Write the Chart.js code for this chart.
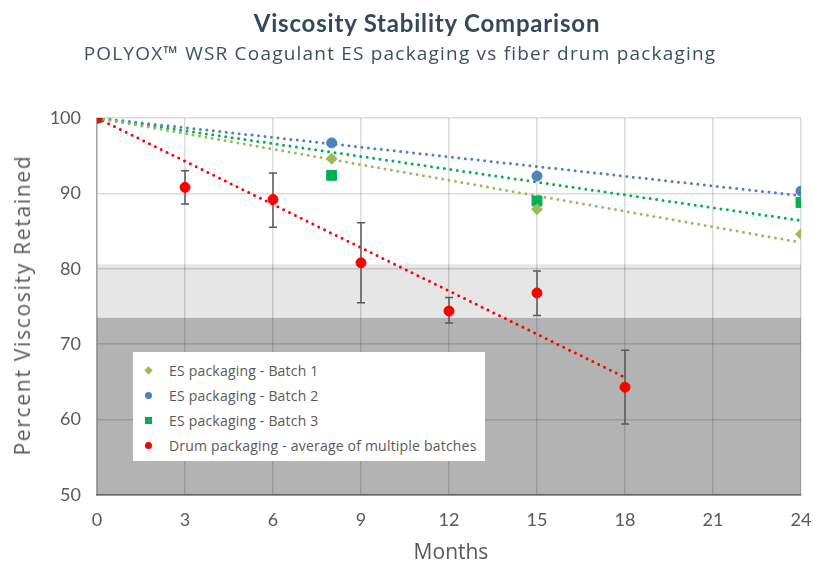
<!DOCTYPE html>
<html>
<head>
<meta charset="utf-8">
<script src="https://cdn.jsdelivr.net/npm/chart.js@4.4.0/dist/chart.umd.min.js"></script>
<style>
  body { margin: 0; background: #fff; }
  #wrap { position: relative; width: 813px; height: 569px; overflow: hidden; }
  .txt { position: absolute; white-space: nowrap; transform: translate(-50%, -50%); }
  #title { left: 427px; top: 22px; font: bold 24px Lato, sans-serif; letter-spacing: 0.8px; color: #34475d; }
  #subtitle { left: 400px; top: 53px; font: 19px 'Open Sans', sans-serif; letter-spacing: 1.2px; color: #3d4f63; }
  #ytitle { left: 22px; top: 305px; font: 21px 'Open Sans', sans-serif; letter-spacing: 1.7px; color: #595959;
            transform: translate(-50%, -50%) rotate(-90deg); }
  #xtitle { left: 451px; top: 551px; font: 21px 'Open Sans', sans-serif; color: #595959; }
  #legend {
    position: absolute; left: 133px; top: 352px; width: 352px; height: 109px;
    background: #fff; font: 14px 'Open Sans', sans-serif; letter-spacing: 0.2px; color: #595959;
    box-sizing: border-box; padding-top: 6px;
  }
  .item { height: 25px; line-height: 25px; position: relative; padding-left: 36px; white-space: nowrap; }
  .mk { position: absolute; left: 12px; top: 9px; width: 7px; height: 7px; }
</style>
</head>
<body>
<div id="wrap">
  <canvas id="chart" width="813" height="569"></canvas>
  <div id="title" class="txt">Viscosity Stability Comparison</div>
  <div id="subtitle" class="txt">POLYOX&trade; WSR Coagulant ES packaging vs fiber drum packaging</div>
  <div id="ytitle" class="txt">Percent Viscosity Retained</div>
  <div id="xtitle" class="txt">Months</div>
  <div id="legend"></div>
</div>
<script>
// Months where samples were taken
const batchMonths = [0, 8, 15, 24];
const drumMonths = [0, 3, 6, 9, 12, 15, 18];

// Percent viscosity retained
const batch1 = [100, 94.6, 87.9, 84.6];
const batch2 = [100, 96.7, 92.3, 90.3];
const batch3 = [100, 92.4, 89.0, 88.8];
const drum = [100, 90.8, 89.2, 80.8, 74.4, 76.8, 64.3];

// error bar ends for drum average
const drumHigh = [100, 93.0, 92.7, 86.1, 76.2, 79.7, 69.2];
const drumLow = [100, 88.6, 85.5, 75.5, 72.8, 73.8, 59.4];

// trend line ends [start, end]
const trendMonths = [0, 24];
const trend1 = [100, 83.5];
const trend2 = [100, 89.7];
const trend3 = [100, 86.4];
const drumTrendMonths = [0, 18];
const drumTrend = [100, 65.6];

// shaded bands [low, high]
const bandLight = [73.5, 80.6];
const bandDark = [50, 73.5];

const xTicks = [0, 3, 6, 9, 12, 15, 18, 21, 24];

const labels = [
  "ES packaging - Batch 1",
  "ES packaging - Batch 2",
  "ES packaging - Batch 3",
  "Drum packaging - average of multiple batches"
];

const COL1 = "#9bbb59", COL2 = "#4f81bd", COL3 = "#00b050", COLR = "#ff0000";
const FONT = "Lato, 'Open Sans', sans-serif";

function pts(xs, ys) { return xs.map((x, i) => ({ x: x, y: ys[i] })); }

function trendSet(xs, ys, color) {
  return {
    data: pts(xs, ys), showLine: true, pointRadius: 0, borderColor: color, order: 5,
    borderWidth: 3, borderDash: [0, 6.5], borderCapStyle: "round", fill: false
  };
}

// shaded bands under the grid
const bandPlugin = {
  id: "bands",
  beforeDraw(chart) {
    const { ctx, chartArea: a, scales: { y } } = chart;
    ctx.save();
    [[bandLight, "#e6e6e6"], [bandDark, "#b3b3b3"]].forEach(([b, c]) => {
      const top = y.getPixelForValue(b[1]);
      const bot = y.getPixelForValue(b[0]);
      ctx.fillStyle = c;
      ctx.fillRect(a.left, top, a.right - a.left, bot - top);
    });
    ctx.restore();
  }
};

// error bars for the drum series, drawn just before its points
const errorPlugin = {
  id: "errbars",
  beforeDatasetDraw(chart, args) {
    if (args.index !== 3) return;
    const { ctx, scales: { x, y } } = chart;
    ctx.save();
    ctx.strokeStyle = "#595959";
    ctx.lineWidth = 1.5;
    drumMonths.forEach((m, i) => {
      if (drumHigh[i] === drumLow[i]) return;
      const px = x.getPixelForValue(m);
      const t = y.getPixelForValue(drumHigh[i]);
      const b = y.getPixelForValue(drumLow[i]);
      ctx.beginPath();
      ctx.moveTo(px, t); ctx.lineTo(px, b);
      ctx.moveTo(px - 4, t); ctx.lineTo(px + 4, t);
      ctx.moveTo(px - 4, b); ctx.lineTo(px + 4, b);
      ctx.stroke();
    });
    ctx.restore();
  }
};

new Chart(document.getElementById("chart"), {
  type: "scatter",
  data: {
    datasets: [
      { label: labels[0], data: pts(batchMonths, batch1), pointStyle: "rectRot", pointRadius: 5.5, backgroundColor: COL1, borderColor: COL1, order: 3 },
      { label: labels[1], data: pts(batchMonths, batch2), pointStyle: "circle", pointRadius: 5, backgroundColor: COL2, borderColor: COL2, order: 2 },
      { label: labels[2], data: pts(batchMonths, batch3), pointStyle: "rect", pointRadius: 7, backgroundColor: COL3, borderColor: COL3, order: 4 },
      { label: labels[3], data: pts(drumMonths, drum), pointStyle: "circle", pointRadius: 5, backgroundColor: COLR, borderColor: COLR, order: 0 },
      trendSet(trendMonths, trend1, COL1),
      trendSet(trendMonths, trend2, COL2),
      trendSet(trendMonths, trend3, COL3),
      trendSet(drumTrendMonths, drumTrend, COLR)
    ]
  },
  options: {
    responsive: false,
    animation: false,
    layout: { padding: { left: 0, right: 0, top: 118, bottom: 0 } },
    plugins: {
      legend: { display: false },
      tooltip: { enabled: false }
    },
    scales: {
      x: {
        type: "linear", min: 0, max: 24,
        afterBuildTicks(s) { s.ticks = xTicks.map(v => ({ value: v })); },
        afterFit(s) { s.height = 74; s.paddingLeft = 0; s.paddingRight = 12; },
        grid: { color: "rgba(0,0,0,0.14)", lineWidth: 1.5, drawTicks: false },
        border: { color: "rgba(0,0,0,0.35)", width: 2 },
        ticks: { color: "#595959", font: { family: FONT, size: 18 }, padding: 14 }
      },
      y: {
        min: 50, max: 100,
        ticks: { stepSize: 10, color: "#595959", font: { family: FONT, size: 18 }, padding: 16 },
        afterFit(s) { s.width = 97; },
        grid: { color: "rgba(0,0,0,0.14)", lineWidth: 1.5, drawTicks: false },
        border: { color: "rgba(0,0,0,0.25)", width: 1.5 }
      }
    }
  },
  plugins: [bandPlugin, errorPlugin]
});

// legend box drawn inside the plot
const marks = [
  "background:" + COL1 + ";transform:rotate(45deg) scale(0.85);",
  "background:" + COL2 + ";border-radius:50%;",
  "background:" + COL3 + ";",
  "background:" + COLR + ";border-radius:50%;"
];
const lg = document.getElementById("legend");
labels.forEach((t, i) => {
  const d = document.createElement("div");
  d.className = "item";
  d.innerHTML = '<span class="mk" style="' + marks[i] + '"></span>' + t;
  lg.appendChild(d);
});
</script>
</body>
</html>
